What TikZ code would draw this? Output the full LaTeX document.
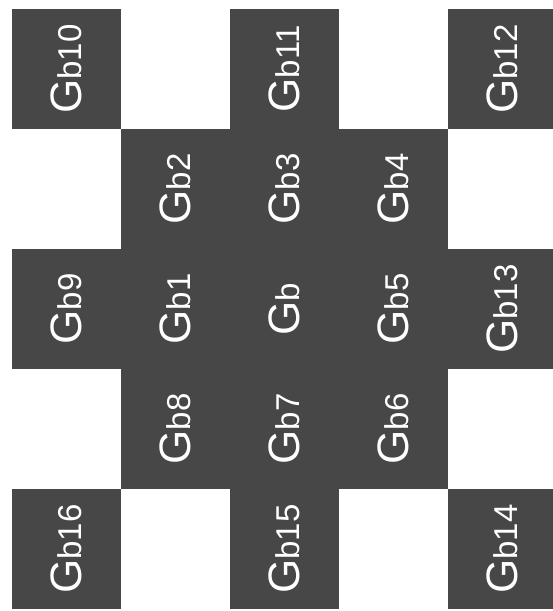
\documentclass[tikz,border=0pt]{standalone}
\usepackage{fontspec}
\setmainfont{Liberation Sans}
\newcommand{\gblabel}[1]{{\fontsize{44}{44}\selectfont G}{\fontsize{33}{33}\selectfont b#1}}
\begin{document}
\begin{tikzpicture}[x=1pt,y=1pt,
  cell/.style={fill=black!72,text=white,rotate=90,minimum width=120pt,minimum height=109pt,inner sep=0pt,outer sep=0pt}]
  \useasboundingbox (0,0) rectangle (553,-611);
  % top row
  \node[cell] (gb10) at (66.5,-69) {\gblabel{10}};
  \node[cell] (gb11) at (284.5,-69) {\gblabel{11}};
  \node[cell] (gb12) at (502.5,-69) {\gblabel{12}};
  % second row
  \node[cell] (gb2) at (175.5,-189) {\gblabel{2}};
  \node[cell] (gb3) at (284.5,-189) {\gblabel{3}};
  \node[cell] (gb4) at (393.5,-189) {\gblabel{4}};
  % middle row
  \node[cell] (gb9) at (66.5,-309) {\gblabel{9}};
  \node[cell] (gb1) at (175.5,-309) {\gblabel{1}};
  \node[cell] (gb) at (284.5,-309) {\gblabel{}};
  \node[cell] (gb5) at (393.5,-309) {\gblabel{5}};
  \node[cell] (gb13) at (502.5,-309) {\gblabel{13}};
  % fourth row
  \node[cell] (gb8) at (175.5,-429) {\gblabel{8}};
  \node[cell] (gb7) at (284.5,-429) {\gblabel{7}};
  \node[cell] (gb6) at (393.5,-429) {\gblabel{6}};
  % bottom row
  \node[cell] (gb16) at (66.5,-549) {\gblabel{16}};
  \node[cell] (gb15) at (284.5,-549) {\gblabel{15}};
  \node[cell] (gb14) at (502.5,-549) {\gblabel{14}};
\end{tikzpicture}
\end{document}
